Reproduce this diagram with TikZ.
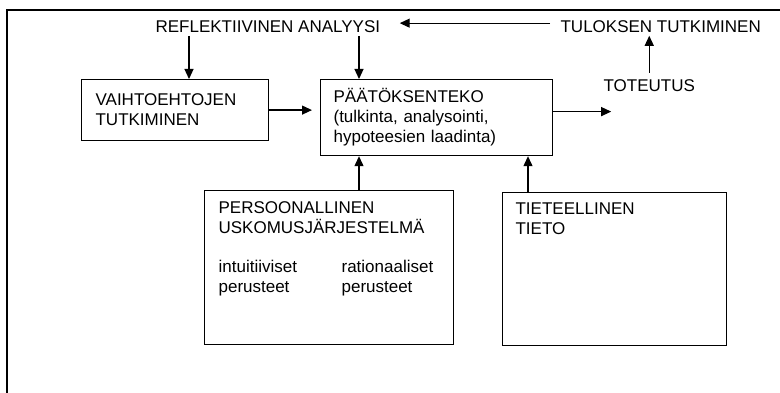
\documentclass[tikz,border=0pt]{standalone}
\usepackage{fontspec}
\setmainfont{Liberation Sans}
\usetikzlibrary{arrows.meta,calc}
\tikzset{box/.style={draw, line width=1.2pt, anchor=north west, inner sep=0pt},
txt/.style={inner sep=0pt, align=left, font=\fontsize{17}{20}\selectfont}
}

\begin{document}
\begin{tikzpicture}[x=1pt, y=-1pt, >={Triangle[length=10pt,width=9pt]}, line width=1.2pt]
    \useasboundingbox (0,0) rectangle (780,393);
    \draw[line width=1.4pt] (7,393) -- (7,10) -- (780,10);

    \node[txt, anchor=base west] (refl)     at (155,33) {REFLEKTIIVINEN ANALYYSI};
    \node[txt, anchor=base west] (tulos)    at (560,33) {TULOKSEN TUTKIMINEN};
    \node[txt, anchor=base west] (toteutus) at (603,92) {TOTEUTUS};

    \node[box, txt, anchor=north west, minimum width=187pt, minimum height=61pt,
          inner xsep=14pt, text width=159pt] (vaiht) at (81,79)
          {VAIHTOEHTOJEN\\TUTKIMINEN};
    \node[box, txt, anchor=north west, minimum width=232pt, minimum height=76pt,
          inner xsep=13pt, text width=206pt] (paat) at (320,79)
          {PÄÄTÖKSENTEKO\\(tulkinta, analysointi,\\hypoteesien laadinta)};
    \node[box, minimum width=249pt, minimum height=154pt] (pers) at (204,190) {};
    \node[box, minimum width=224pt, minimum height=153pt] (tiet) at (502,192) {};

    \node[txt, anchor=north west] (perstxt) at (218,201) {PERSOONALLINEN\\USKOMUSJÄRJESTELMÄ};
    \node[txt, anchor=north west] (intu)    at (218,260) {intuitiiviset\\perusteet};
    \node[txt, anchor=north west] (ratio)   at (341,260) {rationaaliset\\perusteet};
    \node[txt, anchor=north west] (tiettxt) at (515,202) {TIETEELLINEN\\TIETO};

    \path (refl.south west) ++(34,2) coordinate (r1)
          (refl.south west) ++(204,2) coordinate (r2)
          (tulos.west) ++(-10,-4) coordinate (t1)
          (pers.north west) ++(155,0) coordinate (p1)
          (tiet.north west) ++(26,0) coordinate (q1);

    \draw[->] (r1) -- (r1 |- vaiht.north);
    \draw[->] (r2) -- (r2 |- paat.north);
    \draw[->, shorten >=8pt] (vaiht.east) -- (vaiht.east -| paat.west);
    \draw[->] ([yshift=6pt]paat.east) -- ++(58,0);
    \draw[->, shorten <=7pt, shorten >=2pt] (toteutus.north) -- (toteutus.north |- tulos.south);
    \draw[->, shorten >=19pt] (t1) -- (t1 -| refl.east);
    \draw[->] (p1) -- (p1 |- paat.south);
    \draw[->] (q1) -- (q1 |- paat.south);
\end{tikzpicture}
\end{document}
